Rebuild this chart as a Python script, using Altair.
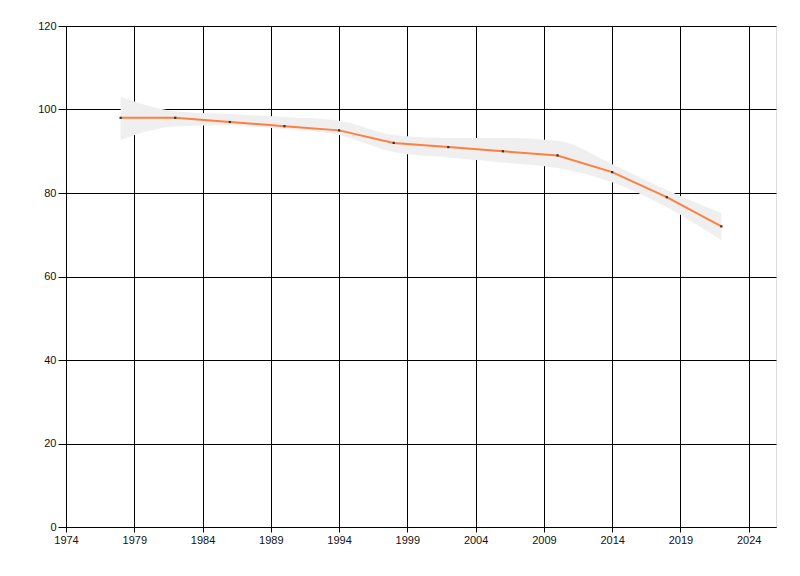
import altair as alt
import pandas as pd

years = [1978, 1982, 1986, 1990, 1994, 1998, 2002, 2006, 2010, 2014, 2018, 2022]
values = [98, 98, 97, 96, 95, 92, 91, 90, 89, 85, 79, 72]
lower = [92.7, 95.9, 96.2, 95.3, 93.9, 89.8, 88.5, 87.3, 86.0, 82.6, 76.6, 68.7]
upper = [103.0, 99.6, 98.9, 98.2, 97.3, 93.9, 93.2, 93.2, 92.5, 86.9, 80.7, 75.2]
x_ticks = [1974, 1979, 1984, 1989, 1994, 1999, 2004, 2009, 2014, 2019, 2024]
y_ticks = [0, 20, 40, 60, 80, 100, 120]

df = pd.DataFrame({"year": years, "value": values, "lo": lower, "hi": upper})

xs = alt.Scale(domain=[1974, 2026], nice=False, zero=False)
ys = alt.Scale(domain=[0, 120], nice=False)

xax = alt.Axis(values=x_ticks, format="d", title=None, grid=True, gridColor="black",
               gridWidth=1, domainColor="black", tickColor="black", tickSize=5,
               labelFont="Liberation Sans", labelFontSize=11, labelColor="#111",
               labelPadding=2, labelFlush=False, labelOverlap=False)
yax = alt.Axis(values=y_ticks, format="d", title=None, grid=True, gridColor="black",
               gridWidth=1, domainColor="black", tickColor="black", tickSize=8,
               labelFont="Liberation Sans", labelFontSize=11, labelColor="#111",
               labelPadding=2, labelFlush=False, labelOverlap=False)

band = alt.Chart(df).mark_area(color="#efefef", interpolate="monotone").encode(
    x=alt.X("year:Q", scale=xs, axis=xax),
    y=alt.Y("lo:Q", scale=ys, axis=yax),
    y2="hi:Q",
)
line = alt.Chart(df).mark_line(color="#ff7f3f", strokeWidth=2).encode(
    x=alt.X("year:Q", scale=xs),
    y=alt.Y("value:Q", scale=ys),
)
pts = alt.Chart(df).mark_square(color="#333333", size=5, opacity=1).encode(
    x=alt.X("year:Q", scale=xs),
    y=alt.Y("value:Q", scale=ys),
)

chart = (band + line + pts).properties(
    width=710, height=501,
    autosize=alt.AutoSizeParams(type="none"),
    padding={"left": 58, "top": 18, "right": 10, "bottom": 30},
).configure_view(stroke=None).configure(background="white")

chart.save("out.html", embed_options={"renderer": "svg", "actions": False})
